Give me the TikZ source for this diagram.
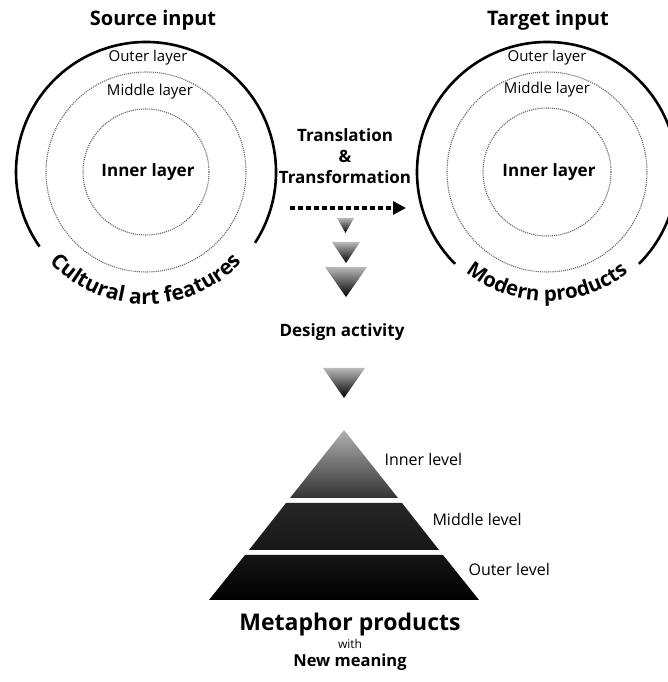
\documentclass[tikz,border=0pt]{standalone}
\usepackage{fontspec}
\setmainfont{Open Sans}
\usetikzlibrary{calc,arrows.meta,positioning}
\usetikzlibrary{decorations.text}

\begin{document}
\begin{tikzpicture}[x=1pt,y=1pt,
        layer/.style={gray!80!black,line width=1.1pt,densely dotted},
        rim/.style={line width=2.6pt},
        fall/.style={top color=gray!55,bottom color=black,draw=none},
        small/.style={font=\fontsize{15}{17}\selectfont},
        bold/.style={font=\bfseries\fontsize{17}{20}\selectfont},
        levelname/.style={anchor=west,font=\fontsize{16}{18}\selectfont}]
        \useasboundingbox (0,0) rectangle (667,682);
        %\draw[red] (0,0) rectangle (667,682);

        % source input
        \coordinate (src) at (146,510);
        \node[font=\bfseries\fontsize{20}{23}\selectfont] (srctitle) at (153,662) {Source input};
        \draw[rim] ($(src)+(-33:130)$) arc (-33:215:130);
        \draw[layer] (src) circle (100);
        \draw[layer] (src) circle (63);
        \node[small] (srcouter) at (148,624) {Outer layer};
        \node[small] (srcmiddle) at (150,590) {Middle layer};
        \node[bold] (srcinner) at (148,510) {Inner layer};
        \path[decorate,decoration={text along path,text align=center,
            text={|\bfseries\fontsize{21}{24}\selectfont|Cultural art features}}]
            ($(src)+(200:132)$) arc (200:340:132);

        % target input
        \coordinate (tgt) at (547,510);
        \node[font=\bfseries\fontsize{20}{23}\selectfont] (tgttitle) at (548,662) {Target input};
        \draw[rim] ($(tgt)+(-45:130)$) arc (-45:225:130);
        \draw[layer] (tgt) circle (100);
        \draw[layer] (tgt) circle (64);
        \node[small] (tgtouter) at (547,624) {Outer layer};
        \node[small] (tgtmiddle) at (547,592) {Middle layer};
        \node[bold] (tgtinner) at (549,510) {Inner layer};
        \path[decorate,decoration={text along path,text align=center,
            text={|\bfseries\fontsize{20.5}{24}\selectfont|Modern products}}]
            ($(tgt)+(200:129)$) arc (200:340:129);

        % translation arrow
        \node[bold,align=center] (trans) at (345,526) {Translation\\[1pt]\&\\[1pt]Transformation};
        \coordinate (arrowstart) at (290,474);
        \coordinate (arrowend) at (406,474);
        \draw[line width=3.5pt,dash pattern=on 4.5pt off 3.5pt,
            -{Triangle[length=13pt,width=13pt]}] (arrowstart) -- (arrowend);

        % falling triangles
        \shade[fall] (337,464) -- (354,464) -- (345.5,449) -- cycle;
        \shade[fall] (332,440) -- (360,440) -- (346,419) -- cycle;
        \shade[fall] (325,415) -- (367,415) -- (346,385) -- cycle;
        \node[bold] (design) at (342,350) {Design activity};
        \shade[fall] (323,314) -- (365,314) -- (344,284) -- cycle;

        % pyramid
        \shade[top color=gray!62,bottom color=gray!40!black] (344,252) -- (398,184) -- (290,184) -- cycle;
        \shade[top color=gray!30!black,bottom color=gray!18!black] (286,179) -- (402,179) -- (439,132) -- (249,132) -- cycle;
        \shade[top color=gray!16!black,bottom color=black] (245,127) -- (443,127) -- (479,82) -- (209,82) -- cycle;
        \node[levelname] (inner) at (381,222) {Inner level};
        \node[levelname] (middle) at (429,162) {Middle level};
        \node[levelname] (outer) at (465,112) {Outer level};

        \node[font=\bfseries\fontsize{23}{26}\selectfont] (metaphor) at (350,57) {Metaphor products};
        \node[font=\fontsize{12}{14}\selectfont] (with) at (350,38) {with};
        \node[font=\bfseries\fontsize{16.5}{19}\selectfont] (meaning) at (350,20) {New meaning};
\end{tikzpicture}
\end{document}
